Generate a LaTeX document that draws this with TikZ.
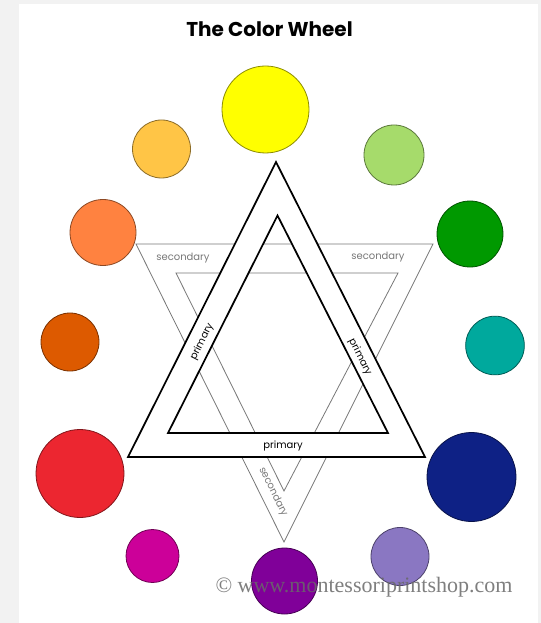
\documentclass[tikz,border=0pt]{standalone}
\usepackage{fontspec}
\setmainfont{Poppins}
\newfontfamily\markfont{Liberation Serif}
\definecolor{pagegray}{RGB}{242,242,242}
\definecolor{secgray}{RGB}{120,120,120}
\definecolor{markgray}{RGB}{105,105,105}
\definecolor{cyellow}{RGB}{255,255,0}
\definecolor{cyelloworange}{RGB}{255,197,70}
\definecolor{corange}{RGB}{255,130,64}
\definecolor{credorange}{RGB}{221,90,0}
\definecolor{cred}{RGB}{236,38,48}
\definecolor{credviolet}{RGB}{204,0,153}
\definecolor{cviolet}{RGB}{128,0,153}
\definecolor{cblueviolet}{RGB}{138,119,194}
\definecolor{cblue}{RGB}{14,33,133}
\definecolor{cbluegreen}{RGB}{0,169,157}
\definecolor{cgreen}{RGB}{0,153,0}
\definecolor{cyellowgreen}{RGB}{166,219,107}

\begin{document}
\begin{tikzpicture}[x=0.75pt, y=-0.75pt,
  swatch/.style={circle, draw=#1!55!black, fill=#1, line width=0.6pt, inner sep=0pt},
  primaryband/.style={draw=black, line width=1.3pt, fill=white, even odd rule},
  secondaryband/.style={draw=secgray, line width=0.6pt},
  primarylabel/.style={font=\fontsize{7.5}{9}\selectfont, text=black, inner sep=1pt},
  secondarylabel/.style={font=\fontsize{7.5}{9}\selectfont, text=secgray, inner sep=1pt},
  title/.style={font=\fontsize{15}{18}\selectfont\bfseries},
  watermark/.style={font=\markfont\fontsize{16.5}{20}\selectfont, text=markgray, opacity=0.85}
]
\useasboundingbox (0,0) rectangle (541,623);
\fill[pagegray] (0,0) rectangle (541,623);
\fill[white] (19,4) rectangle (538,623);

\coordinate (s1) at (136,244);
\coordinate (s2) at (433,244);
\coordinate (s3) at (284,542);
\coordinate (s4) at (176,273);
\coordinate (s5) at (398,273);
\coordinate (s6) at (284,491);
\draw[secondaryband] (s1) -- (s2) -- (s3) -- cycle (s4) -- (s5) -- (s6) -- cycle;

\coordinate (p1) at (276,162);
\coordinate (p2) at (128,457);
\coordinate (p3) at (425,457);
\coordinate (p4) at (277.5,215.5);
\coordinate (p5) at (168,433);
\coordinate (p6) at (388,433);
\path[primaryband] (p1) -- (p2) -- (p3) -- cycle (p4) -- (p5) -- (p6) -- cycle;

\node[primarylabel, rotate=63.4] (primleft) at (202,342) {primary};
\node[primarylabel, rotate=-63.4] (primright) at (360,357) {primary};
\node[primarylabel] (primbottom) at (283,446) {primary};
\node[secondarylabel] (secleft) at (183,258) {secondary};
\node[secondarylabel] (secright) at (378,257) {secondary};
\node[secondarylabel, rotate=-63.6] (secbottom) at (273,492) {secondary};

\node[swatch=cyellow, minimum size=65.25pt] (yellow) at (265.5,109.5) {};
\node[swatch=cyellowgreen, minimum size=45pt] (yellowgreen) at (394,155) {};
\node[swatch=cgreen, minimum size=49.5pt] (green) at (470,234) {};
\node[swatch=cbluegreen, minimum size=44pt] (bluegreen) at (495,345.5) {};
\node[swatch=cblue, minimum size=66.75pt] (blue) at (471.5,477) {};
\node[swatch=cblueviolet, minimum size=43.5pt] (blueviolet) at (400,556.5) {};
\node[swatch=cviolet, minimum size=49.5pt] (violet) at (284.5,581) {};
\node[swatch=credviolet, minimum size=39.75pt] (redviolet) at (152.5,556) {};
\node[swatch=cred, minimum size=66pt] (red) at (80,473.5) {};
\node[swatch=credorange, minimum size=43.5pt] (redorange) at (70,342) {};
\node[swatch=corange, minimum size=49.5pt] (orange) at (103,232.5) {};
\node[swatch=cyelloworange, minimum size=43.5pt] (yelloworange) at (161.5,149) {};

\node[title] (heading) at (269.5,29) {The Color Wheel};
\node[watermark] (mark) at (364,587) {© www.montessoriprintshop.com};
\end{tikzpicture}
\end{document}
